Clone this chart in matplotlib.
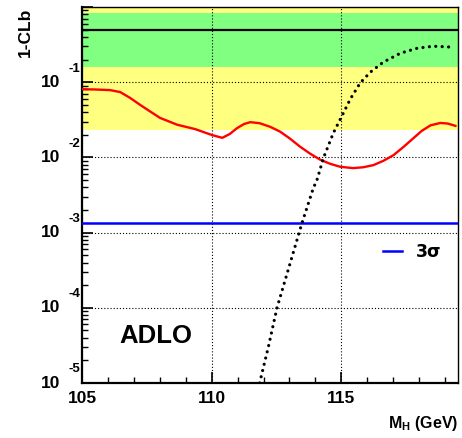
import math
import matplotlib
matplotlib.use('Agg')
import matplotlib.pyplot as plt
import matplotlib.transforms as mtransforms
from matplotlib.ticker import FixedLocator, LogLocator, NullFormatter

plt.rcParams['font.family'] = ['Liberation Sans', 'DejaVu Sans']
plt.rcParams['font.weight'] = 'bold'
plt.rcParams['mathtext.fontset'] = 'custom'
plt.rcParams['mathtext.rm'] = 'Liberation Sans:bold'
plt.rcParams['mathtext.bf'] = 'Liberation Sans:bold'
plt.rcParams['mathtext.it'] = 'Liberation Sans:bold'

# observed 1-CLb (red)
obs_mh = [105.0, 105.5, 106.08, 106.47, 106.85, 107.24, 107.62, 108.01, 108.67, 109.36,
          110.02, 110.41, 110.7, 110.98, 111.25, 111.49, 111.85, 112.26, 112.64,
          113.0, 113.42, 113.8, 114.19, 114.58, 114.96, 115.46, 115.85, 116.24,
          116.62, 117.01, 117.4, 117.78, 118.1, 118.44, 118.82, 119.10, 119.40]
obs_clb = [0.0807, 0.0800, 0.0785, 0.0740, 0.062, 0.050, 0.041, 0.0335, 0.0272, 0.0238,
           0.0198, 0.0182, 0.0205, 0.0245, 0.0278, 0.0294, 0.0285, 0.0255, 0.0220,
           0.0180, 0.0138, 0.0112, 0.0093, 0.0082, 0.0075, 0.0072, 0.0074, 0.0079,
           0.0090, 0.0107, 0.0138, 0.0180, 0.0225, 0.0267, 0.0287, 0.0282, 0.0263]

# expected 1-CLb for signal+background (dotted)
sig_mh = [111.85, 112.19, 112.52, 113.48, 113.92, 114.06, 114.31, 114.69, 115.04,
          115.35, 115.73, 116.12, 116.62, 117.28, 117.93, 118.55, 119.32]
sig_clb = [1.0e-5, 3.05e-5, 1.0e-4, 1.33e-3, 3.9e-3, 5.0e-3, 9.8e-3, 0.021, 0.0365,
           0.060, 0.098, 0.136, 0.185, 0.243, 0.283, 0.301, 0.292]

# background expectation bands and reference lines
median = 0.5
band1 = (0.159, 0.841)
band2 = (0.0228, 0.977)
three_sigma = 1.35e-3

xlim = (105, 119.5)
ylim = (1e-5, 1.0)
y_decades = [-5, -4, -3, -2, -1]

fig = plt.figure(figsize=(4.62, 4.38), dpi=100)
ax = fig.add_axes([82 / 462, 1 - 383 / 438, 376 / 462, 376 / 438])
ax.set_yscale('log')
ax.set_xlim(*xlim)
ax.set_ylim(*ylim)

ax.axhspan(band2[0], band2[1], color='#ffff80', lw=0, zorder=0)
ax.axhspan(band1[0], band1[1], color='#80ff80', lw=0, zorder=0)

ax.grid(True, which='major', color='black', lw=0.8, ls=(0, (1, 1.8)), zorder=1)
ax.set_axisbelow(False)

ax.axhline(median, color='black', lw=1.6, zorder=3)
ax.plot(obs_mh, obs_clb, color='red', lw=1.7, zorder=4, solid_joinstyle='round')
ax.plot(sig_mh, sig_clb, color='black', lw=2.3, ls=(0, (0.01, 2.0)),
        dash_capstyle='round', zorder=4)
line3, = ax.plot(xlim, [three_sigma, three_sigma], color='blue', lw=1.8, zorder=3)

leg = ax.legend([line3], ['3σ'], loc='center left', bbox_to_anchor=(0.80, 0.348),
                frameon=False, handlelength=1.1, handletextpad=0.8,
                borderpad=0, borderaxespad=0, fontsize=12.5)
for t in leg.get_texts():
    t.set_family(['DejaVu Sans'])
    t.set_weight('bold')

ax.text(107.83, 10 ** -4.373, 'ADLO', fontsize=18.5, fontweight='bold',
        ha='center', va='center')

ax.xaxis.set_major_locator(FixedLocator([105, 110, 115]))
ax.xaxis.set_minor_locator(FixedLocator([x for x in range(105, 120)]))
ax.yaxis.set_major_locator(LogLocator(base=10, numticks=10))
ax.yaxis.set_minor_locator(LogLocator(base=10, subs=range(2, 10), numticks=10))
ax.yaxis.set_minor_formatter(NullFormatter())
ax.yaxis.set_major_formatter(NullFormatter())
ax.tick_params(which='both', direction='in', top=False, right=False)
ax.tick_params(which='major', length=8, width=1.2, labelsize=12.5)
ax.tick_params(axis='x', which='major', pad=6)
ax.tick_params(which='minor', length=4, width=1.0)
for lab in ax.get_xticklabels():
    lab.set_fontweight('bold')

# ROOT-style y labels: "10" with a large exponent above-right
ytr = ax.get_yaxis_transform()
for e in y_decades:
    off_base = mtransforms.offset_copy(ytr, fig=fig, x=-22, y=0, units='dots')
    off_exp = mtransforms.offset_copy(ytr, fig=fig, x=-2, y=13.5, units='dots')
    ax.text(0, 10.0 ** e, '10', transform=off_base, ha='right', va='center',
            fontsize=12.5, fontweight='bold', clip_on=False)
    ax.text(0, 10.0 ** e, '-%d' % (-e), transform=off_exp, ha='right', va='center',
            fontsize=9.5, fontweight='bold', clip_on=False)

for s in ['left', 'bottom']:
    ax.spines[s].set_linewidth(1.6)
for s in ['top', 'right']:
    ax.spines[s].set_linewidth(1.0)

fig.text(25 / 462, 1 - 8 / 438, '1-CLb', rotation=90, ha='center', va='top',
         fontsize=12.5, fontweight='bold')
fig.text(458 / 462, 1 - 428 / 438, r'M$_\mathbf{H}$ (GeV)', ha='right', va='baseline',
         fontsize=11.5, fontweight='bold')

fig.savefig('out.png', dpi=100)
